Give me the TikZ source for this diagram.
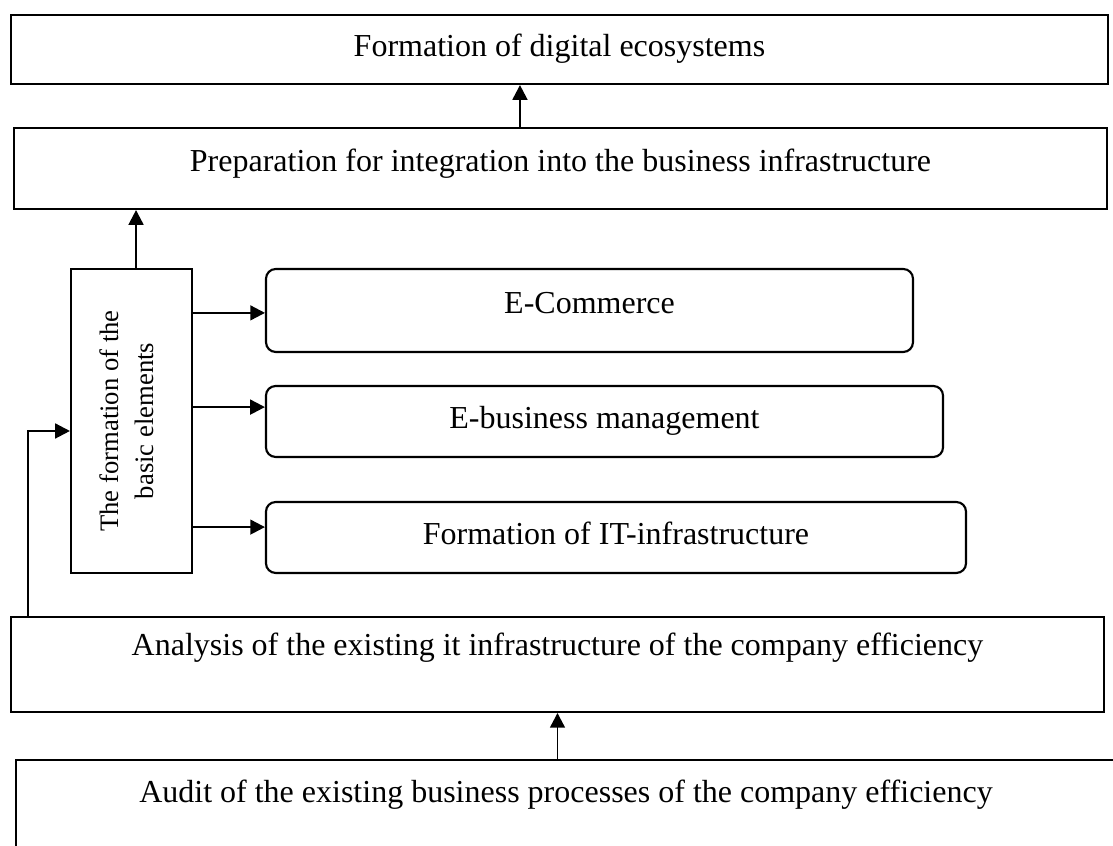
\documentclass[tikz,border=0pt]{standalone}
\usepackage{fontspec}
\setmainfont{Liberation Serif}
\usetikzlibrary{arrows.meta}

\tikzset{
  box/.style={draw, line width=0.8pt, inner sep=0pt,
    text height=8pt, text depth=2.6pt,
    font=\fontsize{12}{14.4}\selectfont},
  roundbox/.style={box, rounded corners=3.6pt},
  arr/.style={line width=0.6pt, -{Triangle[length=5.5pt,width=5.6pt]}},
}

\begin{document}
\begin{tikzpicture}[x=0.375pt, y=-0.375pt]
  \clip (0,0) rectangle (1113,846);

  % stages, top to bottom
  \node[box, minimum width=411.4pt, minimum height=25.9pt] (eco) at (559.5,49.5)
    {Formation of digital ecosystems};
  \node[box, minimum width=409.9pt, minimum height=30.4pt, text depth=6.1pt] (prep) at (560.5,168.5)
    {Preparation for integration into the business infrastructure};
  \node[box, minimum width=409.9pt, minimum height=35.6pt, text depth=15.1pt] (ana) at (557.5,664.5)
    {Analysis of the existing it infrastructure of the company efficiency};
  \node[box, minimum width=412.5pt, minimum height=35.6pt, text depth=12.1pt] (audit) at (566,807.5)
    {Audit of the existing business processes of the company efficiency};

  % basic elements
  \node[box, minimum width=45.4pt, minimum height=114pt] (basic) at (131.5,421) {};
  \node[rotate=90, yshift=1.9pt, align=center, font=\fontsize{10}{13}\selectfont] (basictxt) at (basic)
    {The formation of the\\basic elements};
  \node[roundbox, minimum width=242.6pt, minimum height=31.1pt, text depth=5.9pt] (ecom) at (589.5,310.5)
    {E-Commerce};
  \node[roundbox, minimum width=253.9pt, minimum height=26.6pt] (ebiz) at (604.5,421.5)
    {E-business management};
  \node[roundbox, minimum width=262.5pt, minimum height=26.6pt] (itinf) at (616,537.5)
    {Formation of IT-infrastructure};

  % connectors
  \draw[arr] (ana.south |- audit.north) -- (ana.south);
  \coordinate (anaout) at ([xshift=6.75pt]ana.north west);
  \draw[arr] (anaout) |- ([yshift=-3.75pt]basic.west);
  \foreach \n/\s in {ecom/-0.9pt, ebiz/5.4pt, itinf/3.9pt}
    \draw[arr] ([yshift=\s]\n.west -| basic.east) -- ([yshift=\s]\n.west);
  \coordinate (basicout) at ([xshift=1.7pt]basic.north);
  \draw[arr] (basicout) -- (basicout |- prep.south);
  \coordinate (prepout) at ([xshift=-15.2pt]prep.north);
  \draw[arr] (prepout) -- (prepout |- eco.south);
\end{tikzpicture}
\end{document}
